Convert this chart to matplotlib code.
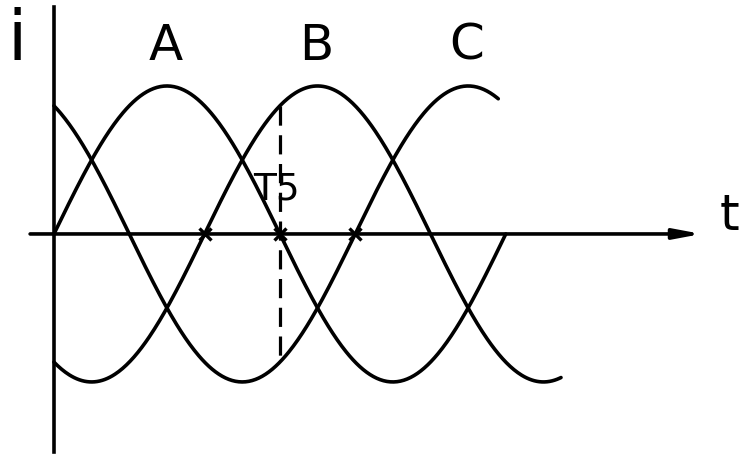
import numpy as np
import matplotlib

matplotlib.use("Agg")
import matplotlib.pyplot as plt

# three-phase currents, angle in degrees
phase_names = ["A", "B", "C"]
phase_shift = [0, 120, 240]          # lag of each phase
phase_start = [0, 0, 0]              # where each curve starts (deg)
phase_end = [360, 404, 354]          # where each curve stops (deg)
amplitude = 1.0

zero_marks = [120, 180, 240]         # crossings marked with x
t5_angle = 180                       # dashed line at A's falling zero
t5_label = "T5"

fig = plt.figure(figsize=(7.44, 4.58), dpi=100)
ax = fig.add_axes([0, 0, 1, 1])
ax.set_xlim(-43.0, 549.8)
ax.set_ylim(-1.514, 1.581)
ax.axis("off")

lw = 2.6
for name, shift, start, end in zip(phase_names, phase_shift, phase_start, phase_end):
    theta = np.linspace(start, end, 400)
    ax.plot(theta, amplitude * np.sin(np.radians(theta - shift)),
            color="black", linewidth=lw, solid_capstyle="round")
    peak = shift + 90 if shift + 90 < 360 else shift + 90 - 360
    ax.text(peak - 1, 1.176, name, ha="center", va="baseline",
            fontsize=36, color="black")

# axes drawn by hand, like the sketch
ax.plot([0, 0], [1.534, -1.473], color="black", linewidth=2.6)
ax.annotate("", xy=(516, 0.0), xytext=(-19, 0.0),
            arrowprops=dict(arrowstyle="-|>,head_length=1.6,head_width=0.3",
                            color="black", linewidth=2.6,
                            shrinkA=0, shrinkB=0))
ax.text(-29, 1.176, "i", ha="center", va="baseline", fontsize=50)
ax.text(538, 0.027, "t", ha="center", va="baseline", fontsize=36)

# dashed line between B and C at the T5 instant
b_val = amplitude * np.sin(np.radians(t5_angle - phase_shift[1]))
c_val = amplitude * np.sin(np.radians(t5_angle - phase_shift[2]))
ax.plot([t5_angle, t5_angle], [b_val, c_val], color="black",
        linewidth=2.3, linestyle=(0, (6, 3)))
ax.text(t5_angle - 3, 0.23, t5_label, ha="center", va="baseline", fontsize=27)

ax.plot(zero_marks, np.zeros(len(zero_marks)), linestyle="none", marker="x",
        markersize=9, markeredgewidth=2.4, color="black")

fig.savefig("out.png", dpi=100)
plt.close(fig)
